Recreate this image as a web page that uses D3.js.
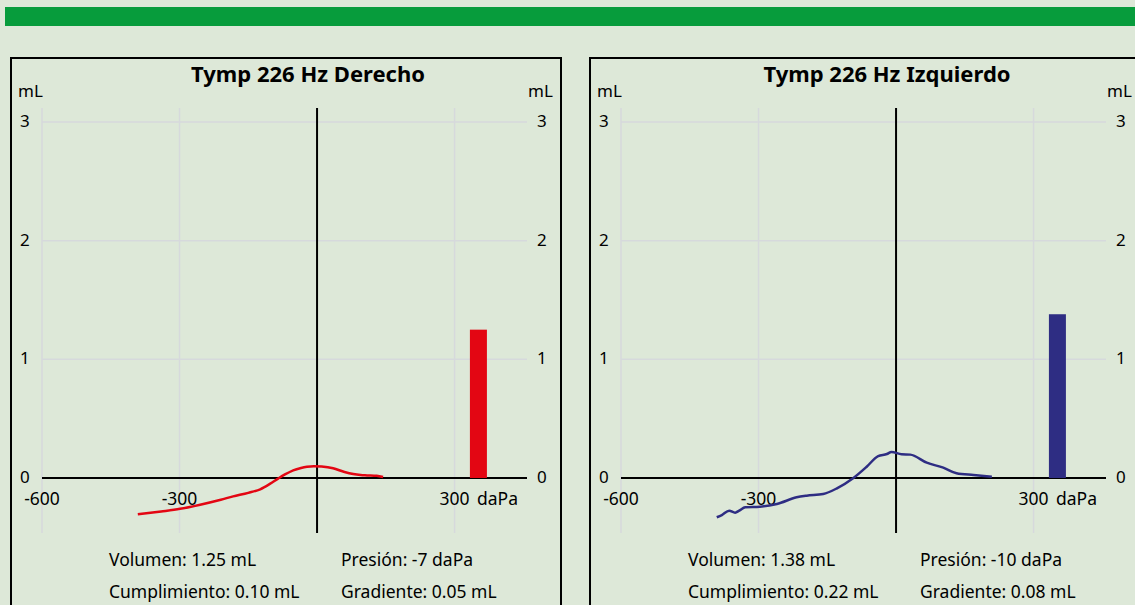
<!DOCTYPE html>
<html lang="es">
  <head>
    <meta charset="UTF-8" />
    <title>Timpanometría 226 Hz</title>
    <script src="https://d3js.org/d3.v7.min.js"></script>
    <style>
      body { margin: 0; background: #dde8d8; }
      svg { display: block; font-family: "Noto Sans", "Open Sans", sans-serif; }
    </style>
  </head>
  <body>
    <svg></svg>
    <script>
      var width = 1135;
      var height = 605;

      // tick labels
      var xTicks = [-600, -300, 300];
      var yTicks = [0, 1, 2, 3];

      // oído derecho
      var rightTitle = "Tymp 226 Hz Derecho";
      var rightPressure = [-391, -340, -299, -255, -210, -183, -150, -124, -103, -85, -70, -52, -35, -22, -7, 10, 35, 60, 79, 95, 109, 130, 144];
      var rightVolume = [-0.306, -0.282, -0.26, -0.225, -0.183, -0.155, -0.125, -0.095, -0.05, -0.005, 0.03, 0.065, 0.085, 0.095, 0.1, 0.097, 0.082, 0.05, 0.033, 0.025, 0.022, 0.018, 0.008];
      var rightInfo = ["Volumen: 1.25 mL", "Presión: -7 daPa", "Cumplimiento: 0.10 mL", "Gradiente: 0.05 mL"];
      var rightEcv = 1.25;

      // oído izquierdo
      var leftTitle = "Tymp 226 Hz Izquierdo";
      var leftPressure = [-391, -380, -364, -351, -342, -329, -297, -260, -217, -195, -159, -129, -93, -64, -39, -20, -10, 12, 31, 67, 103, 132, 169, 209];
      var leftVolume = [-0.331, -0.312, -0.275, -0.292, -0.275, -0.247, -0.242, -0.219, -0.163, -0.149, -0.135, -0.087, 0, 0.095, 0.185, 0.202, 0.22, 0.2, 0.197, 0.129, 0.087, 0.04, 0.025, 0.011];
      var leftInfo = ["Volumen: 1.38 mL", "Presión: -10 daPa", "Cumplimiento: 0.22 mL", "Gradiente: 0.08 mL"];
      var leftEcv = 1.38;

      var ecvPressure = 352; // where the volume bar sits on the x axis

      var svg = d3.select("svg").attr("width", width).attr("height", height);

      svg.append("rect")
        .attr("x", 0).attr("y", 0)
        .attr("width", width).attr("height", height)
        .style("fill", "#dde8d8");

      svg.append("rect")
        .attr("x", 5).attr("y", 7)
        .attr("width", width - 5).attr("height", 19)
        .style("fill", "#079c3c");

      var x = d3.scaleLinear().domain([-600, 458]).range([42, 527]);
      var y = d3.scaleLinear().domain([0, 3]).range([478, 122]);
      var plotTop = 108, plotBottom = 533;

      function drawPanel(offset, title, pressure, volume, info, ecv, color) {
        var g = svg.append("g").attr("transform", `translate(${offset}, 0)`);

        g.append("rect")
          .attr("x", 11).attr("y", 58)
          .attr("width", 550).attr("height", 600)
          .style("fill", "none")
          .style("stroke", "#000")
          .style("stroke-width", 2);

        g.append("text")
          .attr("x", 308).attr("y", 82)
          .attr("text-anchor", "middle")
          .style("font-size", "22px")
          .style("font-weight", "bold")
          .text(title);

        // grid
        g.append("g").selectAll("line")
          .data(yTicks.filter((d) => d > 0))
          .join("line")
          .attr("x1", x.range()[0]).attr("x2", x.range()[1])
          .attr("y1", (d) => y(d)).attr("y2", (d) => y(d))
          .style("stroke", "#d6d9dc").style("stroke-width", 1.5);

        g.append("g").selectAll("line")
          .data(xTicks)
          .join("line")
          .attr("x1", (d) => x(d)).attr("x2", (d) => x(d))
          .attr("y1", plotTop).attr("y2", plotBottom)
          .style("stroke", "#d6d9dc").style("stroke-width", 1.5);

        // axes
        g.append("line")
          .attr("x1", x.range()[0]).attr("x2", x.range()[1])
          .attr("y1", y(0)).attr("y2", y(0))
          .style("stroke", "#000").style("stroke-width", 2);

        g.append("line")
          .attr("x1", x(0)).attr("x2", x(0))
          .attr("y1", plotTop).attr("y2", plotBottom)
          .style("stroke", "#000").style("stroke-width", 2);

        // y labels, both sides
        g.append("text").attr("x", 18).attr("y", 97).style("font-size", "17px").text("mL");
        g.append("text").attr("x", 528).attr("y", 97).style("font-size", "17px").text("mL");

        g.append("g").selectAll("text")
          .data(yTicks)
          .join("text")
          .attr("x", 20)
          .attr("y", (d) => y(d) + 5)
          .style("font-size", "17px")
          .text((d) => d);

        g.append("g").selectAll("text")
          .data(yTicks)
          .join("text")
          .attr("x", 537)
          .attr("y", (d) => y(d) + 5)
          .style("font-size", "17px")
          .text((d) => d);

        // x labels
        g.append("g").selectAll("text")
          .data(xTicks)
          .join("text")
          .attr("x", (d) => x(d))
          .attr("y", 505)
          .attr("text-anchor", "middle")
          .style("font-size", "17.5px")
          .text((d) => d);

        g.append("text")
          .attr("x", 477).attr("y", 505)
          .style("font-size", "17.5px")
          .text("daPa");

        // volume bar
        g.append("rect")
          .attr("x", x(ecvPressure) - 8.5)
          .attr("y", y(ecv))
          .attr("width", 17)
          .attr("height", y(0) - y(ecv))
          .style("fill", color);

        // curve
        var line = d3.line()
          .x((d, i) => x(pressure[i]))
          .y((d) => y(d))
          .curve(d3.curveMonotoneX);

        g.append("path")
          .datum(volume)
          .attr("d", line)
          .style("fill", "none")
          .style("stroke", color)
          .style("stroke-width", 2.5);

        // info
        g.append("g").selectAll("text")
          .data(info)
          .join("text")
          .attr("x", (d, i) => (i % 2 === 0 ? 109 : 341))
          .attr("y", (d, i) => (i < 2 ? 566 : 598))
          .style("font-size", "17.5px")
          .text((d) => d);
      }

      drawPanel(0, rightTitle, rightPressure, rightVolume, rightInfo, rightEcv, "#e30613");
      drawPanel(579, leftTitle, leftPressure, leftVolume, leftInfo, leftEcv, "#2e2d83");
    </script>
  </body>
</html>
